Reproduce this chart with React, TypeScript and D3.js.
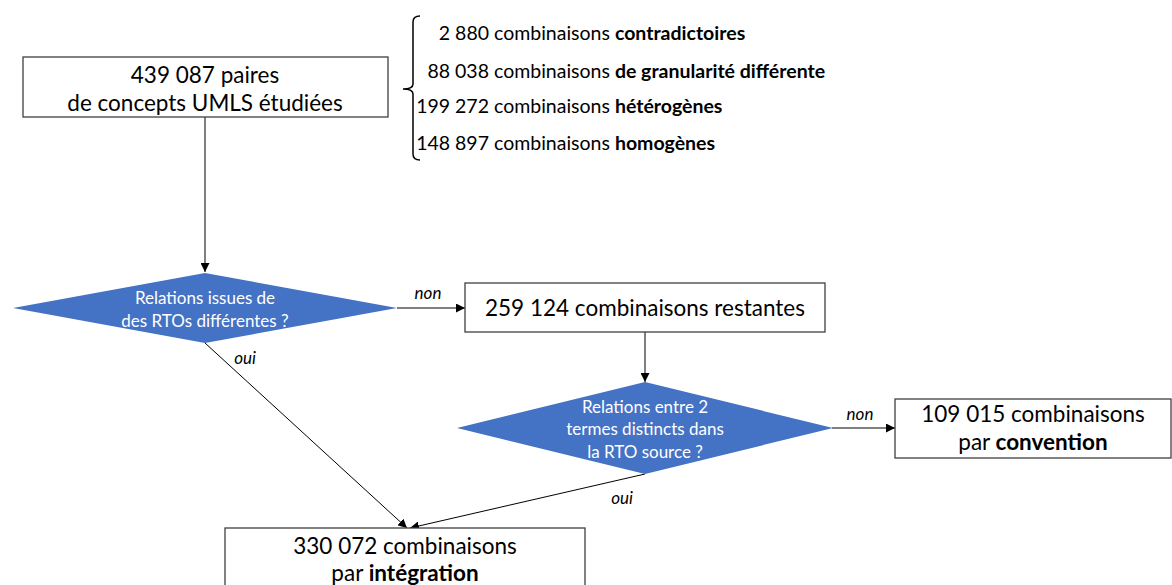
import React, { useEffect, useRef } from "react";
import * as d3 from "d3";

// ---- data ----
const rootLines = ["439 087 paires", "de concepts UMLS étudiées"];
const braceCounts = ["2 880", "88 038", "199 272", "148 897"];
const braceKinds = ["contradictoires", "de granularité différente", "hétérogènes", "homogènes"];
const question1 = ["Relations issues de", "des RTOs différentes ?"];
const question2 = ["Relations entre 2", "termes distincts dans", "la RTO source ?"];
const remaining = "259 124 combinaisons restantes";
const conventionCount = "109 015 combinaisons";
const conventionWord = "convention";
const integrationCount = "330 072 combinaisons";
const integrationWord = "intégration";
const answerNo = "non";
const answerYes = "oui";

const FONT = "Lato, 'Open Sans', sans-serif";
const BLUE = "#4472C4";

export default function App() {
  const ref = useRef<SVGSVGElement>(null);

  useEffect(() => {
    const svg = d3.select(ref.current);
    svg.selectAll("*").remove();

    const defs = svg.append("defs");
    defs
      .append("marker")
      .attr("id", "arr")
      .attr("viewBox", "0 0 10 10")
      .attr("refX", 10)
      .attr("refY", 5)
      .attr("markerWidth", 9)
      .attr("markerHeight", 9)
      .attr("markerUnits", "userSpaceOnUse")
      .attr("orient", "auto")
      .append("path")
      .attr("d", "M0,0 L10,5 L0,10 z")
      .attr("fill", "#000");

    const g = svg.append("g");
    const line = d3.line<[number, number]>();

    const box = (x: number, y: number, w: number, h: number) =>
      g.append("rect")
        .attr("x", x).attr("y", y).attr("width", w).attr("height", h)
        .attr("fill", "#fff").attr("stroke", "#404040").attr("stroke-width", 1.3);

    const arrow = (pts: [number, number][]) =>
      g.append("path").attr("d", line(pts)).attr("fill", "none")
        .attr("stroke", "#000").attr("stroke-width", 1).attr("marker-end", "url(#arr)");

    const diamond = (cx: number, cy: number, hw: number, hh: number) =>
      g.append("path")
        .attr("d", line([[cx - hw, cy], [cx, cy - hh], [cx + hw, cy], [cx, cy + hh]]) + "Z")
        .attr("fill", BLUE);

    const text = (x: number, y: number, s: string, size: number, opts: any = {}) =>
      g.append("text").attr("x", x).attr("y", y).text(s)
        .attr("font-family", FONT).attr("font-size", size)
        .attr("text-anchor", opts.anchor || "middle")
        .attr("dominant-baseline", "central")
        .attr("fill", opts.fill || "#000")
        .attr("font-style", opts.italic ? "italic" : "normal")
        .attr("font-weight", opts.bold ? "bold" : "normal");

    const mixed = (x: number, y: number, a: string, b: string, size: number, anchor = "middle") => {
      const t = g.append("text").attr("x", x).attr("y", y)
        .attr("font-family", FONT).attr("font-size", size)
        .attr("text-anchor", anchor).attr("dominant-baseline", "central").attr("fill", "#000");
      t.append("tspan").text(a);
      t.append("tspan").attr("font-weight", "bold").text(b);
      return t;
    };

    // connectors first
    arrow([[205, 117], [205, 272]]);
    arrow([[397, 308], [465, 308]]);
    arrow([[645, 332], [645, 382]]);
    arrow([[832, 428], [895, 428]]);
    arrow([[205, 343], [407, 528]]);
    arrow([[645, 474], [410, 528]]);

    // root box
    box(23, 57, 365, 60);
    rootLines.forEach((s, i) => text(205, 74 + i * 28, s, 22.5));

    // brace
    g.append("path")
      .attr("d", "M420,16 Q413,16 413,22 L413,84 Q413,89 403,89 Q413,89 413,94 L413,154 Q413,160 420,160")
      .attr("fill", "none").attr("stroke", "#000").attr("stroke-width", 1.5);
    const braceY = [32, 70, 105, 142];
    braceCounts.forEach((c, i) => {
      text(489, braceY[i], c, 19.5, { anchor: "end" });
      mixed(494, braceY[i], "combinaisons ", braceKinds[i], 19.5, "start");
    });

    // decision 1
    diamond(205, 308, 192, 35);
    question1.forEach((s, i) => text(205, 297 + i * 23, s, 17, { fill: "#fff" }));
    text(428, 292, answerNo, 17, { italic: true });
    text(245, 357, answerYes, 17, { italic: true });

    // remaining
    box(465, 283, 360, 49);
    text(645, 307, remaining, 22.5);

    // decision 2
    diamond(645, 428, 188, 46);
    question2.forEach((s, i) => text(645, 406 + i * 22.5, s, 17, { fill: "#fff" }));
    text(860, 413, answerNo, 17, { italic: true });
    text(622, 497, answerYes, 17, { italic: true });

    // convention
    box(895, 399, 276, 59);
    text(1033, 413, conventionCount, 22.5);
    mixed(1033, 441, "par ", conventionWord, 22.5);

    // integration
    box(225, 528, 360, 70);
    text(405, 545, integrationCount, 22.5);
    mixed(405, 572, "par ", integrationWord, 22.5);
  }, []);

  return (
    <svg
      ref={ref}
      width={1172}
      height={585}
      style={{ position: "absolute", left: 0, top: 0, background: "#fff" }}
    />
  );
}
